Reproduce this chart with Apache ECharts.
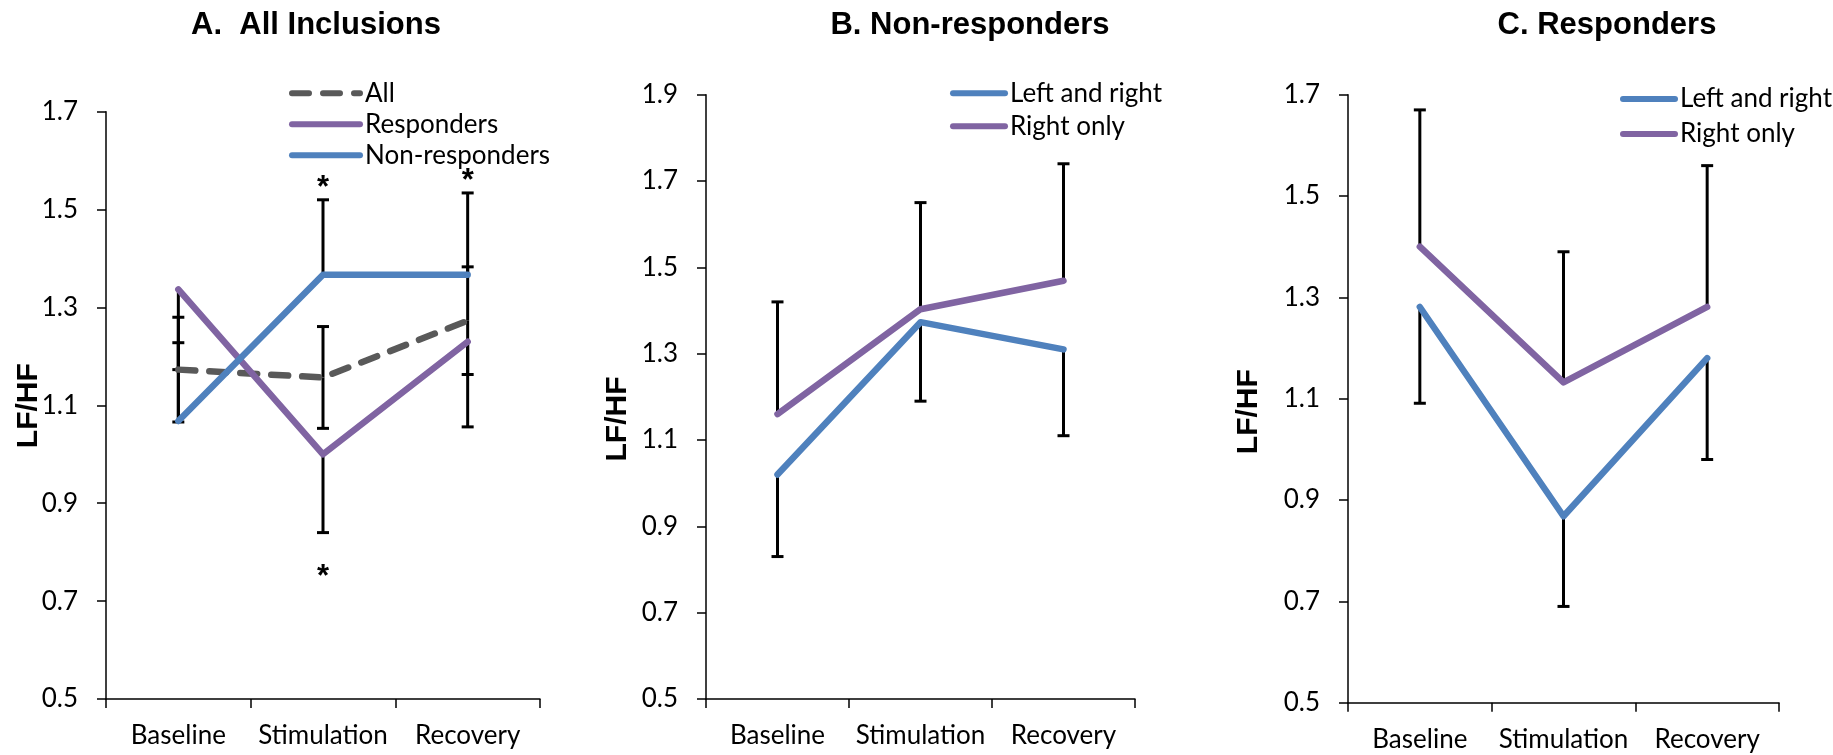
<!DOCTYPE html>
<html>
<head>
<meta charset="utf-8">
<title>LF/HF by phase</title>
<script src="https://cdn.jsdelivr.net/npm/echarts@6/dist/echarts.min.js"></script>
<style>
  html, body { margin: 0; padding: 0; background: #fff; }
  #chart { width: 1833px; height: 755px; }
</style>
</head>
<body>
<div id="chart"></div>
<script>
// Phases shared by all three panels
const categories = ['Baseline', 'Stimulation', 'Recovery'];

// A. All inclusions: mean LF/HF and error (All: both directions, Responders: down, Non-responders: up)
const allMean = [1.173, 1.157, 1.273];
const allErr = [0.107, 0.104, 0.110];
const respMean = [1.337, 1.000, 1.230];
const respErr = [0.164, 0.160, 0.174];
const nonRespMean = [1.068, 1.367, 1.367];
const nonRespErr = [0.160, 0.153, 0.167];
// significance asterisks (above the non-responder bar / below the responder bar)
const nonRespSig = [false, true, true];
const respSig = [false, true, false];

// B. Non-responders: stimulation side
const nrLeftRight = [1.020, 1.373, 1.310];
const nrLeftRightErr = [0.190, 0.183, 0.200];
const nrRightOnly = [1.160, 1.403, 1.469];
const nrRightOnlyErr = [0.260, 0.247, 0.271];

// C. Responders: stimulation side
const rLeftRight = [1.281, 0.868, 1.180];
const rLeftRightErr = [0.190, 0.178, 0.200];
const rRightOnly = [1.400, 1.132, 1.281];
const rRightOnlyErr = [0.270, 0.258, 0.279];

// value axis ranges [min, max, step]
const yRangeA = [0.5, 1.7, 0.2];
const yRangeB = [0.5, 1.9, 0.2];
const yRangeC = [0.5, 1.7, 0.2];

const BLUE = '#4F81BD';
const PURPLE = '#8064A2';
const GREY = '#595959';
const LABEL_FONT = 'Lato';
const DASH = [17, 14];

// error-bar segments [categoryIndex, from, to]; the cap sits at "to"
function segments(means, errs, dirs) {
  const out = [];
  means.forEach((m, i) => {
    if (dirs.indexOf('up') >= 0) out.push([i, m, m + errs[i]]);
    if (dirs.indexOf('down') >= 0) out.push([i, m, m - errs[i]]);
  });
  return out;
}

function renderErrorBar(params, api) {
  const cat = api.value(0);
  const p0 = api.coord([cat, api.value(1)]);
  const p1 = api.coord([cat, api.value(2)]);
  const st = { stroke: '#000', lineWidth: 3 };
  return {
    type: 'group',
    children: [
      { type: 'line', shape: { x1: p0[0], y1: p0[1], x2: p1[0], y2: p1[1] }, style: st },
      { type: 'line', shape: { x1: p1[0] - 6, y1: p1[1], x2: p1[0] + 6, y2: p1[1] }, style: st }
    ]
  };
}

// asterisk above (dir 1) or below (dir -1) the end of an error bar
function renderStar(params, api) {
  const p = api.coord([api.value(0), api.value(1)]);
  const dir = api.value(2);
  return {
    type: 'text',
    x: p[0],
    y: dir > 0 ? p[1] - 11 : p[1] + 45,
    style: {
      text: '*', fill: '#000', font: 'bold 31px "Liberation Sans"',
      align: 'center', verticalAlign: 'middle'
    }
  };
}

const starData = [];
nonRespSig.forEach((s, i) => { if (s) starData.push([i, nonRespMean[i] + nonRespErr[i], 1]); });
respSig.forEach((s, i) => { if (s) starData.push([i, respMean[i] - respErr[i], -1]); });

const grids = [
  { left: 106, top: 111.7, width: 434, height: 587.3 },
  { left: 706, top: 94.7, width: 429, height: 604.3 },
  { left: 1348, top: 94.7, width: 431, height: 608 }
];

const axisLineStyle = { color: '#000', width: 1.5 };

function xAxisFor(i) {
  return {
    type: 'category', gridIndex: i, data: categories, boundaryGap: true,
    axisLine: { lineStyle: axisLineStyle },
    axisTick: { show: true, length: 9, lineStyle: axisLineStyle },
    axisLabel: {
      color: '#000', fontFamily: LABEL_FONT, fontSize: 26, margin: 24,
      interval: 0, hideOverlap: false
    },
    splitLine: { show: false }
  };
}

function yAxisFor(i, range) {
  return {
    type: 'value', gridIndex: i, min: range[0], max: range[1], interval: range[2],
    axisLine: { show: true, lineStyle: axisLineStyle },
    axisTick: { show: true, length: 9, lineStyle: axisLineStyle },
    axisLabel: {
      color: '#000', fontFamily: LABEL_FONT, fontSize: 26, margin: 28,
      formatter: v => v.toFixed(1)
    },
    splitLine: { show: false }
  };
}

function lineSeries(name, data, color, i, dashed) {
  return {
    type: 'line', name: name, data: data, xAxisIndex: i, yAxisIndex: i,
    symbol: 'none', showSymbol: false, z: 3,
    itemStyle: { color: color },
    lineStyle: {
      color: color, width: 6.5, cap: 'round', join: 'round',
      type: dashed ? DASH : 'solid'
    },
    emphasis: { disabled: true }
  };
}

function errorSeries(i, data) {
  return {
    type: 'custom', xAxisIndex: i, yAxisIndex: i, z: 2,
    renderItem: renderErrorBar, data: data, silent: true,
    encode: { x: 0, y: [1, 2] }
  };
}

function legendFor(names, left, top, itemWidth, gap) {
  return {
    data: names, orient: 'vertical', left: left, top: top, padding: 0,
    itemWidth: itemWidth, itemHeight: 26, itemGap: gap,
    selectedMode: false,
    itemStyle: { opacity: 0, borderWidth: 0 },
    lineStyle: { width: 6, cap: 'round' },
    textStyle: { color: '#000', fontFamily: LABEL_FONT, fontSize: 26, lineHeight: 26 }
  };
}

function titleText(text, x, y) {
  return {
    type: 'text', x: x, y: y,
    style: { text: text, fill: '#000', font: 'bold 31px "Liberation Sans"', align: 'center', verticalAlign: 'middle' }
  };
}

function axisNameText(x, y) {
  return {
    type: 'text', x: x, y: y, rotation: Math.PI / 2,
    style: { text: 'LF/HF', fill: '#000', font: 'bold 30px "Liberation Sans"', align: 'center', verticalAlign: 'middle' }
  };
}

const option = {
  animation: false,
  backgroundColor: '#fff',
  grid: grids,
  xAxis: [xAxisFor(0), xAxisFor(1), xAxisFor(2)],
  yAxis: [yAxisFor(0, yRangeA), yAxisFor(1, yRangeB), yAxisFor(2, yRangeC)],
  legend: [
    legendFor([
      { name: 'All', lineStyle: { type: DASH, dashOffset: 0, width: 6, cap: 'round' } },
      'Responders', 'Non-responders'
    ], 289, 80.3, 68, 5),
    legendFor(['Left and right', 'Right only'], 950, 80.3, 52, 7),
    legendFor(['Left and right', 'Right only'], 1620, 86, 52, 9)
  ],
  graphic: [
    titleText('A.  All Inclusions', 316, 25),
    titleText('B. Non-responders', 970, 25),
    titleText('C. Responders', 1607, 25),
    axisNameText(29, 405.7),
    axisNameText(618, 419),
    axisNameText(1249, 411.7)
  ],
  series: [
    // A
    errorSeries(0, []
      .concat(segments(allMean, allErr, ['up', 'down']))
      .concat(segments(respMean, respErr, ['down']))
      .concat(segments(nonRespMean, nonRespErr, ['up']))),
    lineSeries('All', allMean, GREY, 0, true),
    lineSeries('Responders', respMean, PURPLE, 0, false),
    lineSeries('Non-responders', nonRespMean, BLUE, 0, false),
    {
      type: 'custom', xAxisIndex: 0, yAxisIndex: 0, z: 4, silent: true,
      renderItem: renderStar, data: starData, encode: { x: 0, y: 1 }
    },
    // B
    errorSeries(1, []
      .concat(segments(nrLeftRight, nrLeftRightErr, ['down']))
      .concat(segments(nrRightOnly, nrRightOnlyErr, ['up']))),
    lineSeries('Left and right', nrLeftRight, BLUE, 1, false),
    lineSeries('Right only', nrRightOnly, PURPLE, 1, false),
    // C
    errorSeries(2, []
      .concat(segments(rLeftRight, rLeftRightErr, ['down']))
      .concat(segments(rRightOnly, rRightOnlyErr, ['up']))),
    lineSeries('Left and right', rLeftRight, BLUE, 2, false),
    lineSeries('Right only', rRightOnly, PURPLE, 2, false)
  ]
};

const chart = echarts.init(document.getElementById('chart'), null, { renderer: 'canvas' });
chart.setOption(option);
</script>
</body>
</html>
